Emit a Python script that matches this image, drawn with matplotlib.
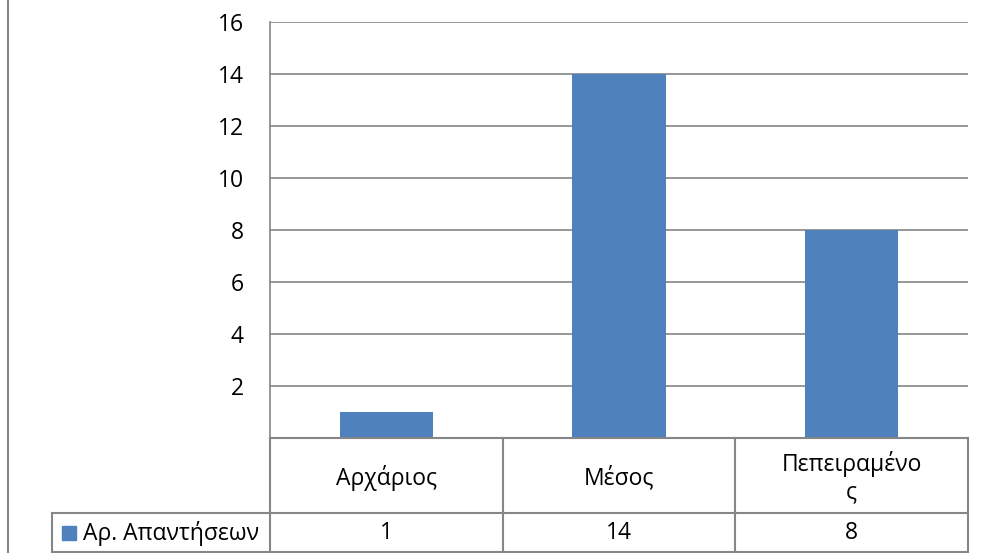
import matplotlib.pyplot as plt
from matplotlib.lines import Line2D
from matplotlib.patches import Rectangle

plt.rcParams["font.family"] = ["Open Sans", "DejaVu Sans"]
plt.rcParams["font.size"] = 16.5

categories = ["Αρχάριος", "Μέσος", "Πεπειραμένο\nς"]
values = [1, 14, 8]
series_name = "Αρ. Απαντήσεων"
yticks = [2, 4, 6, 8, 10, 12, 14, 16]

bar_color = "#4F81BD"
line_color = "#868686"

W, H = 998, 553
fig = plt.figure(figsize=(W / 100, H / 100), dpi=100)

# plot area in pixels
left, right, top, bottom = 270, 968, 22, 438
ax = fig.add_axes([left / W, 1 - bottom / H, (right - left) / W, (bottom - top) / H])

x = list(range(len(categories)))
ax.bar(x, values, width=0.4, color=bar_color, zorder=3)
ax.set_xlim(-0.5, len(categories) - 0.5)
ax.set_ylim(0, 16)
ax.set_yticks(yticks)
ax.set_xticks([])
ax.tick_params(axis="y", length=0, pad=19, labelsize=16.5)
ax.grid(axis="y", color=line_color, lw=1.2, zorder=0)
for s in ["top", "right", "bottom"]:
    ax.spines[s].set_visible(False)
ax.spines["left"].set_color(line_color)
ax.spines["left"].set_linewidth(1.2)


def px(xp, yp):
    return xp / W, 1 - yp / H


def hline(x0, x1, y):
    fig.add_artist(Line2D([x0 / W, x1 / W], [1 - y / H, 1 - y / H], color=line_color, lw=1.5))


def vline(xp, y0, y1):
    fig.add_artist(Line2D([xp / W, xp / W], [1 - y0 / H, 1 - y1 / H], color=line_color, lw=1.5))


# data table under the chart
row1, row2, row3 = 438, 513, 552
legend_left = 52
col_w = (right - left) / len(categories)
cols = [left + i * col_w for i in range(len(categories) + 1)]

hline(left, right, row1)
hline(legend_left, right, row2)
hline(legend_left, right, row3)
for c in cols:
    vline(c, row1, row3)
vline(legend_left, row2, row3)

for i, (cat, v) in enumerate(zip(categories, values)):
    cx = cols[i] + col_w / 2
    fig.text(*px(cx, 478), cat, ha="center", va="center",
             fontsize=16.5, linespacing=1.2)
    fig.text(*px(cx, 533), str(v), ha="center", va="center", fontsize=16.5)

fig.add_artist(Rectangle(px(62, 540), 14 / W, 14 / H, color=bar_color))
fig.text(*px(83, 533), series_name, ha="left", va="center", fontsize=16.5)

# outer chart border on the left
vline(8, 0, H)

fig.savefig("out.png", dpi=100)
